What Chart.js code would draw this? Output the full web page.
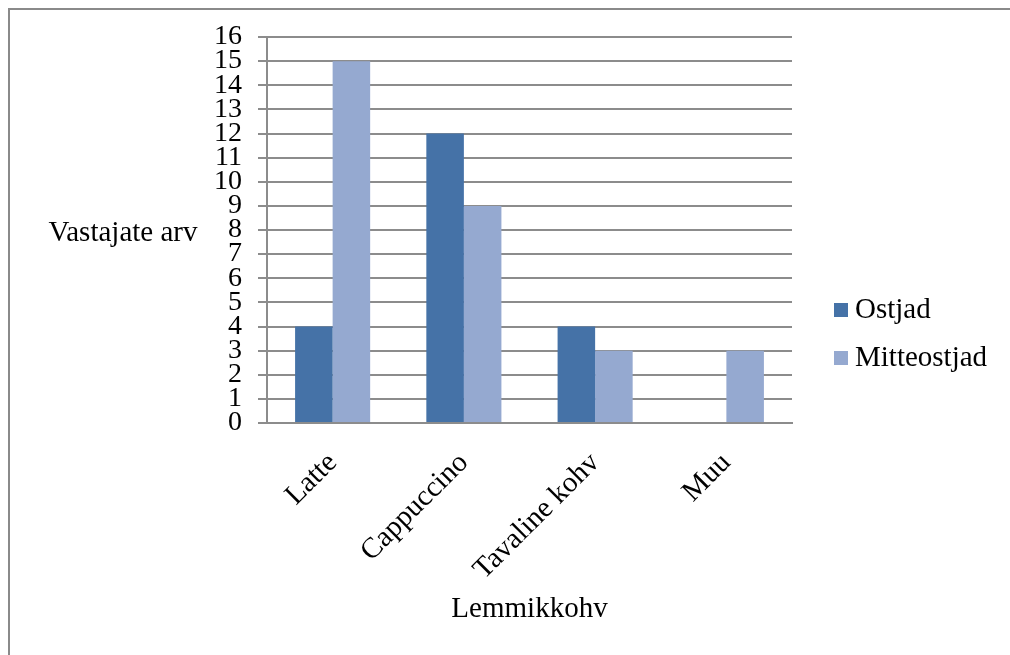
<!DOCTYPE html>
<html>
<head>
<meta charset="utf-8">
<script src="https://cdn.jsdelivr.net/npm/chart.js@4/dist/chart.umd.min.js"></script>
<style>
  html, body { margin: 0; padding: 0; background: #fff; }
  #wrap { position: relative; width: 1010px; height: 655px; overflow: hidden; }
  #frame { position: absolute; left: 8px; top: 8px; width: 1100px; height: 700px;
           border-top: 2px solid #8a8a8a; border-left: 2px solid #8a8a8a; pointer-events: none; }
  canvas { position: absolute; left: 0; top: 0; }
</style>
</head>
<body>
<div id="wrap">
  <canvas id="chart" width="1010" height="655"></canvas>
  <div id="frame"></div>
</div>
<script>
// Survey: favourite coffee by buyers / non-buyers
const categories = ['Latte', 'Cappuccino', 'Tavaline kohv', 'Muu'];
const ostjad = [4, 12, 4, 0];
const mitteostjad = [15, 9, 3, 3];
const seriesNames = ['Ostjad', 'Mitteostjad'];
const yTitle = 'Vastajate arv';
const xTitle = 'Lemmikkohv';

const FONT = '"Liberation Serif", "Times New Roman", serif';
const GRID = '#8c8c8c';

// Horizontal y title, x title and the side legend
const extras = {
  id: 'extras',
  afterDraw(chart) {
    const { ctx, chartArea } = chart;
    ctx.save();
    ctx.fillStyle = '#000';
    ctx.font = '29px ' + FONT;
    ctx.textBaseline = 'middle';
    ctx.textAlign = 'center';
    ctx.fillText(yTitle, 123, 233);
    ctx.fillText(xTitle, (chartArea.left + chartArea.right) / 2, 609);

    ctx.textAlign = 'left';
    const lx = 834, ly0 = 310, step = 48;
    chart.data.datasets.forEach((ds, i) => {
      const y = ly0 + i * step;
      ctx.fillStyle = ds.backgroundColor;
      ctx.fillRect(lx, y - 7, 14, 14);
      ctx.fillStyle = '#000';
      ctx.fillText(ds.label, lx + 21, y);
    });
    ctx.restore();
  }
};

new Chart(document.getElementById('chart'), {
  type: 'bar',
  data: {
    labels: categories,
    datasets: [
      { label: seriesNames[0], data: ostjad, backgroundColor: '#4572a7' },
      { label: seriesNames[1], data: mitteostjad, backgroundColor: '#95a9d0' }
    ]
  },
  options: {
    responsive: false,
    animation: false,
    events: [],
    layout: { padding: { left: 167, right: 218, top: 37, bottom: 32 } },
    datasets: { bar: { categoryPercentage: 0.572, barPercentage: 1.0 } },
    plugins: { legend: { display: false }, tooltip: { enabled: false } },
    scales: {
      x: {
        grid: { display: false, drawTicks: false },
        border: { display: true, color: GRID, width: 2 },
        ticks: {
          autoSkip: false, minRotation: 45, maxRotation: 45, padding: 23,
          color: '#000', font: { family: FONT, size: 29 }
        },
        afterFit(s) { s.height = 200; }
      },
      y: {
        min: 0, max: 16,
        grid: { color: GRID, lineWidth: 2, tickLength: 9, drawTicks: true },
        border: { display: true, color: GRID, width: 2 },
        ticks: {
          stepSize: 1, autoSkip: false, padding: 16, color: '#000',
          font: { family: FONT, size: 28, lineHeight: 1 }
        },
        afterFit(s) { s.width = 100; }
      }
    }
  },
  plugins: [extras]
});
</script>
</body>
</html>
